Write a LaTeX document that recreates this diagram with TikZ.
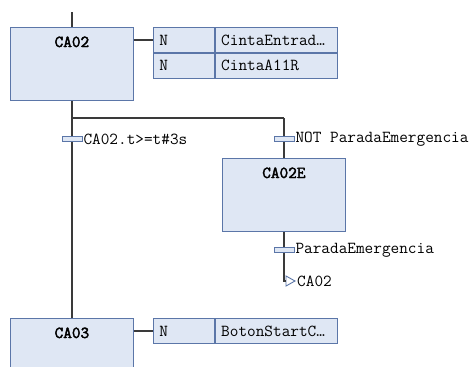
\documentclass[tikz,border=0pt]{standalone}
\usepackage{fontspec}
\setmonofont{Latin Modern Mono}[BoldFont={Latin Modern Mono},
  BoldFeatures={FakeBold=2.5}]
\usetikzlibrary{positioning}

\definecolor{stepfill}{HTML}{DFE7F4}
\definecolor{stepedge}{HTML}{5B76A8}
\definecolor{wire}{HTML}{3A3A3A}

\newcommand{\sfcfont}{\fontsize{16.8}{18}\ttfamily}

\tikzset{
  stepbox/.style={draw=stepedge,fill=stepfill,thick,minimum width=123pt,
    minimum height=73pt,anchor=north west,inner sep=0pt},
  stepname/.style={font=\sfcfont\bfseries,anchor=north,yshift=-6pt},
  qualcell/.style={draw=stepedge,fill=stepfill,thick,minimum width=61pt,
    minimum height=25pt,anchor=north west,inner xsep=6pt,inner ysep=3pt,
    text width=49pt,align=left,font=\sfcfont},
  actcell/.style={qualcell,minimum width=122pt,text width=110pt},
  trans/.style={draw=stepedge,fill=stepfill,thick,minimum width=20pt,
    minimum height=5pt,inner sep=0pt},
  translbl/.style={font=\sfcfont,anchor=west,inner sep=1pt},
  wireline/.style={draw=wire,line width=1.2pt},
}

\begin{document}
\begin{tikzpicture}[x=1pt,y=-1pt]
  \useasboundingbox (0,0) rectangle (475,367);

  % steps
  \node[stepbox] (ca02) at (10,27) {};
  \node[stepname] at (ca02.north) {CA02};
  \node[stepbox] (ca02e) at (222,158) {};
  \node[stepname] at (ca02e.north) {CA02E};
  \node[stepbox] (ca03) at (10,318) {};
  \node[stepname] at (ca03.north) {CA03};

  % action blocks
  \node[qualcell] (q1) at (153,27) {N};
  \node[actcell] (a1) at (q1.north east) {CintaEntrad…};
  \node[qualcell] (q2) at (q1.south west) {N};
  \node[actcell] (a2) at (q2.north east) {CintaA11R};
  \node[qualcell] (q3) at (153,318) {N};
  \node[actcell] (a3) at (q3.north east) {BotonStartC…};

  % transitions
  \coordinate (top) at (ca02.north |- 0,12);
  \coordinate (split) at (ca02.south |- 0,118);
  \coordinate (splitr) at (ca02e.north |- split);
  \node[trans] (t1) at (ca02.south |- 0,139) {};
  \node[translbl] at (t1.east) {CA02.t>=t\#3s};
  \node[trans] (t2) at (ca02e.north |- 0,139) {};
  \node[translbl] at (t2.east) {NOT ParadaEmergencia};
  \node[trans] (t3) at (ca02e.south |- 0,250) {};
  \node[translbl] at (t3.east) {ParadaEmergencia};

  % jump back
  \coordinate (jmp) at (ca02e.south |- 0,281);
  \coordinate (jtip) at (286,281);
  \draw[draw=stepedge,fill=white,line width=0.9pt]
    (286,276) -- (295,281) -- (286,286) -- cycle;
  \node[translbl] at (296,281) {CA02};

  % wires
  \draw[wireline] (top) -- (ca02.north);
  \draw[wireline] (ca02.south) -- (split) -- (splitr);
  \draw[wireline] (split) -- (t1) -- (ca03.north);
  \draw[wireline] (splitr) -- (t2) -- (ca02e.north);
  \draw[wireline] (ca02e.south) -- (t3) -- (jmp) -- (jtip);
  \draw[wireline] (ca02.east |- q1.west) -- (q1.west);
  \draw[wireline] (ca03.east |- q3.west) -- (q3.west);
\end{tikzpicture}
\end{document}
